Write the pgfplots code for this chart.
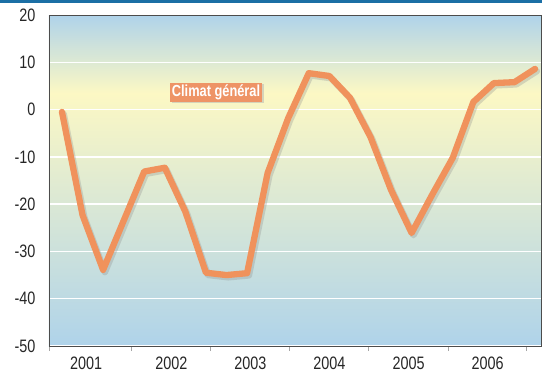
\documentclass[border=0pt]{standalone}
\usepackage{pgfplots}
\pgfplotsset{compat=1.18}
\usepackage{fontspec}
\setmainfont{Liberation Sans}[FakeStretch=0.8]
\definecolor{bgblue}{HTML}{AFD3EA}
\definecolor{bgyellow}{HTML}{FCF8C4}
\definecolor{lineor}{HTML}{F0925C}
\definecolor{boxor}{HTML}{EE9466}
\definecolor{topbar}{HTML}{1B6FA5}
\pgfdeclareverticalshading{bgshade}{100bp}{color(0bp)=(bgblue); color(25bp)=(bgblue); color(63.2bp)=(bgyellow); color(75bp)=(bgblue); color(100bp)=(bgblue)}
\begin{document}
\begin{tikzpicture}
\useasboundingbox (0,0) rectangle (542pt,373pt);
\fill[topbar] (0,369.5pt) rectangle (542pt,373pt);
\begin{axis}[
  at={(49pt,27pt)}, anchor=south west,
  width=492pt, height=331pt, scale only axis,
  xmin=-0.63, xmax=23.29,
  ymin=-50, ymax=20,
  axis background/.style={shading=bgshade},
  axis line style={draw=black!70, line width=0.8pt},
  xtick={-0.63,3.40,7.24,11.08,14.92,18.77,22.6},
  xticklabels={},
  extra x ticks={1.17,5.32,9.16,13.0,16.85,20.7},
  extra x tick labels={2001,2002,2003,2004,2005,2006},
  extra x tick style={major tick length=0pt, xticklabel style={anchor=north, yshift=-7pt}},
  xtick pos=bottom, tick align=outside,
  x tick style={draw=black!35, line width=0.8pt},
  major tick length=5pt,
  ytick={-50,-40,-30,-20,-10,0,10,20},
  yticklabels={-50,-40,-30,-20,-10,0,10,20},
  y tick style={draw=none},
  yticklabel style={anchor=east, xshift=-5pt},
  ymajorgrids, y grid style={white, line width=1.3pt},
  tick label style={font=\fontsize{18}{18}\selectfont, text=black!85},
  clip=true,
]
\addplot[black!45, opacity=0.3, line width=6.5pt, line join=round, line cap=round, xshift=1.8pt, yshift=-2.2pt] coordinates {
(0,-0.5) (1,-22.3) (2,-33.9) (3,-23.5) (4,-13.1) (5,-12.3) (6,-21.6) (7,-34.5)
(8,-35.0) (9,-34.6) (10,-13.4) (11,-1.8) (12,7.7) (13,7.1) (14,2.5) (15,-5.8)
(16,-17.0) (17,-26.1) (18,-18.0) (19,-10.2) (20,1.6) (21,5.6) (22,5.8) (23,8.6)
};
\addplot[lineor, line width=6.3pt, line join=round, line cap=round] coordinates {
(0,-0.5) (1,-22.3) (2,-33.9) (3,-23.5) (4,-13.1) (5,-12.3) (6,-21.6) (7,-34.5)
(8,-35.0) (9,-34.6) (10,-13.4) (11,-1.8) (12,7.7) (13,7.1) (14,2.5) (15,-5.8)
(16,-17.0) (17,-26.1) (18,-18.0) (19,-10.2) (20,1.6) (21,5.6) (22,5.8) (23,8.6)
};
\node[fill=black!30, opacity=0.5, minimum width=92pt, minimum height=19pt, xshift=1.5pt, yshift=-1.5pt] at (axis cs:7.49,3.7) {};
\node[fill=boxor, text=white, font=\bfseries\fontsize{16}{16}\selectfont, minimum width=92pt, minimum height=19pt, inner sep=0pt] at (axis cs:7.49,3.7) {Climat général};
\end{axis}
\end{tikzpicture}
\end{document}
